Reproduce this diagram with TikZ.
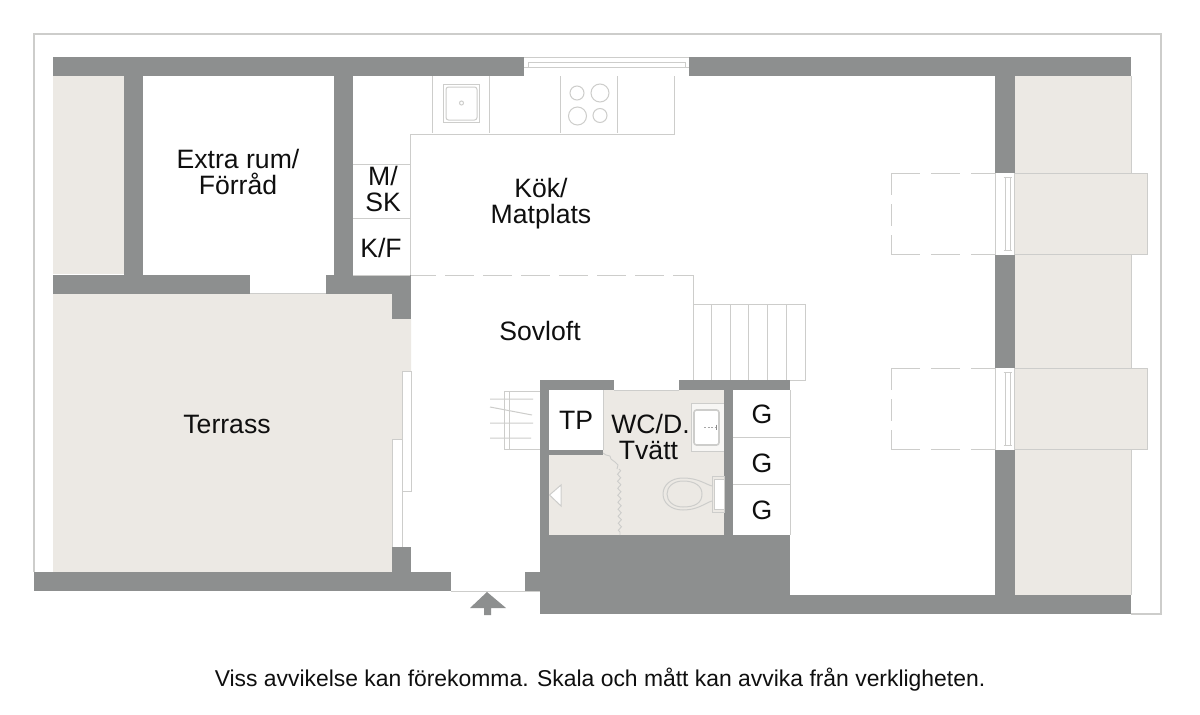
\documentclass[tikz,border=0pt]{standalone}
\usepackage{fontspec}
\setmainfont{Liberation Sans}
\usetikzlibrary{decorations.pathmorphing}
\definecolor{wallc}{RGB}{141,143,143}
\definecolor{beigec}{RGB}{236,233,228}
\definecolor{linec}{RGB}{205,205,203}
\definecolor{txtc}{RGB}{15,15,15}
\tikzset{
  wall/.style={fill=wallc,draw=none},
  outdoor/.style={fill=beigec,draw=none},
  thin line/.style={draw=linec,line width=1pt},
  dash line/.style={draw=linec,line width=1pt,dash pattern=on 29pt off 9pt},
  room label/.style={font=\fontsize{26.6}{26}\selectfont,align=center,text=txtc,inner sep=0pt},
}
\begin{document}
\begin{tikzpicture}[x=1pt,y=-1pt]
\useasboundingbox (0,0) rectangle (1200,715);
\fill[white] (0,0) rectangle (1200,715);
% frame
\draw[thin line,line width=1.2pt] (34,572) -- (34,34) -- (1161,34) -- (1161,614) -- (1131,614);
% outdoor areas
\fill[outdoor] (53,76) rectangle (124,274);
\fill[outdoor] (53,294) -- (392,294) -- (392,319) -- (411,319) -- (411,371) -- (402,371) -- (402,439) -- (392,439) -- (392,572) -- (53,572) -- cycle;
\fill[outdoor] (1015,76) rectangle (1131,595);
\draw[thin line] (1131,76) -- (1131,595);
\draw[thin line] (402,371) rectangle (411,491);
\draw[thin line] (392,439) rectangle (402,547);
% bathroom floor
\fill[outdoor] (549,390) rectangle (724,535);
% walls
\fill[wall] (53,57) rectangle (524,76);
\fill[wall] (689,57) rectangle (1131,76);
\fill[wall] (124,76) rectangle (143,275);
\fill[wall] (334,76) rectangle (353,275);
\fill[wall] (53,275) rectangle (250,294);
\fill[wall] (326,275) rectangle (411,294);
\fill[wall] (392,294) rectangle (411,319);
\fill[wall] (392,547) rectangle (411,572);
\fill[wall] (34,572) rectangle (451,591);
\fill[wall] (525,572) rectangle (540,591);
\fill[wall] (540,535) rectangle (790,614);
\fill[wall] (790,595) rectangle (1131,614);
\fill[wall] (995,76) rectangle (1015,595);
\fill[wall] (540,380) rectangle (614,390);
\fill[wall] (679,380) rectangle (790,390);
\fill[wall] (540,390) rectangle (549,535);
\fill[wall] (724,390) rectangle (733,535);
\fill[wall] (549,450) rectangle (603,455);
% TP closet
\fill[white] (549,390) rectangle (603,450);
\draw[thin line] (603,390) -- (603,450);
\draw[thin line] (614,390.5) -- (679,390.5);
% top window
\draw[thin line] (524,57.5) -- (688.5,57.5);
\draw[thin line] (528,62) rectangle (685,67);
\draw[thin line] (524,67) -- (528,67) (685,67) -- (689,67);
\draw[thin line] (250,293.5) -- (326,293.5);
% kitchen
\draw[thin line] (410,275) -- (410,134) -- (674,134) -- (674,76);
\draw[thin line] (432,76) -- (432,133) (489,76) -- (489,133) (560,76) -- (560,133) (617,76) -- (617,133);
\draw[thin line] (443,84) rectangle (479,122);
\draw[thin line,rounded corners=2.5pt] (446,87) rectangle (477,120);
\draw[thin line] (461.5,103) circle (2);
\draw[thin line] (577,93) circle (7);
\draw[thin line] (600,93) circle (9);
\draw[thin line] (577.5,116) circle (9);
\draw[thin line] (600,115.5) circle (7);
\draw[thin line] (353,164) -- (410,164) (353,218) -- (410,218) (353,275) -- (410,275);
\draw[dash line,dash phase=4pt] (411,275) -- (693,275);
% big stairs
\draw[thin line] (693,275) -- (693,380);
\draw[thin line] (693,304) -- (805,304) -- (805,380) -- (790,380);
\foreach \sx in {711,730,748,767.5,786} \draw[thin line] (\sx,304) -- (\sx,380);
% small stairs
\draw[thin line] (540,391) -- (504,391) -- (504,449) -- (540,449);
\draw[thin line] (509,391) -- (509,449);
\draw[thin line] (490,399) -- (533,399) (490,423) -- (533,423) (490,438) -- (531,438) (490,407) -- (532,415);
% closets G
\draw[thin line] (733,437) -- (790,437) (733,484) -- (790,484) (790,390) -- (790,535);
% sink
\filldraw[draw=linec,fill=white!60!beigec,line width=1pt] (724,403) -- (691,403) -- (691,451) -- (724,451);
\filldraw[draw=linec,fill=white,rounded corners=2.5pt,line width=1.6pt] (694,410) rectangle (719,445);
\draw[draw=gray!70,line width=0.8pt,dash pattern=on 2pt off 1.5pt] (704,427) -- (715,427);
\draw[draw=gray!90,line width=1.5pt] (716.5,424.5) -- (716.5,429.5);
% toilet
\filldraw[draw=linec,fill=beigec,line width=1pt] (712,476) rectangle (724,512);
\filldraw[draw=linec,fill=white,line width=0.8pt] (714,479) rectangle (724,509);
\filldraw[draw=linec,fill=beigec,line width=1pt] (712,486) .. controls (705,484) and (698,478) .. (683,478) .. controls (671,478) and (663,485) .. (663,494) .. controls (663,503) and (671,510) .. (683,510) .. controls (698,510) and (705,503) .. (712,501);
\draw[thin line] (683,481) .. controls (673,481) and (667,487) .. (667,494) .. controls (667,501) and (673,507) .. (683,507) .. controls (695,507) and (702,503) .. (702,494) .. controls (702,486) and (695,481) .. (683,481);
% curtain
\draw[thin line,line width=0.9pt] (603,453) -- (606,455) -- (610,456) -- (611,459) -- (615,462) -- (618,465) -- (617,469);
\draw[thin line,line width=0.9pt,decorate,decoration={zigzag,segment length=7pt,amplitude=1.6pt}] (619,469) -- (620,535);
% door triangle
\draw[thin line,fill=white,line join=miter] (549.5,495) -- (561,485) -- (561,506) -- cycle;
% right side dormers
\foreach \ya/\yb in {173/254.5,368/449.5}{
  \fill[white] (995,\ya) rectangle (1015,\yb);
  \draw[thin line] (995,\ya) -- (995,\yb);
  \draw[thin line] (1005,\ya+4) rectangle (1010,\yb-4);
  \draw[thin line] (1003.5,\ya+4) -- (1011.5,\ya+4) (1003.5,\yb-4) -- (1011.5,\yb-4);
  \filldraw[draw=linec,fill=beigec,line width=1pt] (1014.5,\ya) rectangle (1147,\yb);
  \draw[dash line,dash phase=0pt,dash pattern=on 29pt off 11pt] (891,\ya) -- (995,\ya);
  \draw[dash line,dash pattern=on 29pt off 11pt] (891,\yb) -- (995,\yb);
  \draw[dash line,dash pattern=on 22pt off 9pt] (891,\ya) -- (891,\yb);
}
% entrance
\draw[thin line] (451,591.5) -- (540,591.5);
\fill[wall] (487,592) -- (506,608) -- (491,608) -- (491,615) -- (484,615) -- (484,608) -- (470,608) -- cycle;
% labels
\node[room label] (terrass) at (227,424) {Terrass};
\node[room label] (extra) at (238,172) {Extra rum/\\Förråd};
\node[room label] (msk) at (383,188.5) {M/\\SK};
\node[room label] (kf) at (381,247.5) {K/F};
\node[room label] (kok) at (541,204) {Kök/\\Matplats};
\node[room label] (sovloft) at (540,331) {Sovloft};
\node[room label] (tp) at (576,420) {TP};
\node[room label] (wc) at (650.5,437) {WC/D.\\Tvätt\hspace*{4pt}};
\node[room label] (g1) at (762,414.5) {G};
\node[room label] (g2) at (762,463) {G};
\node[room label] (g3) at (762,510) {G};
\node[font=\fontsize{22.9}{22.9}\selectfont,text=txtc,inner sep=0pt] (note) at (600,680) {Viss avvikelse kan förekomma. Skala och mått kan avvika från verkligheten.};
\end{tikzpicture}
\end{document}
